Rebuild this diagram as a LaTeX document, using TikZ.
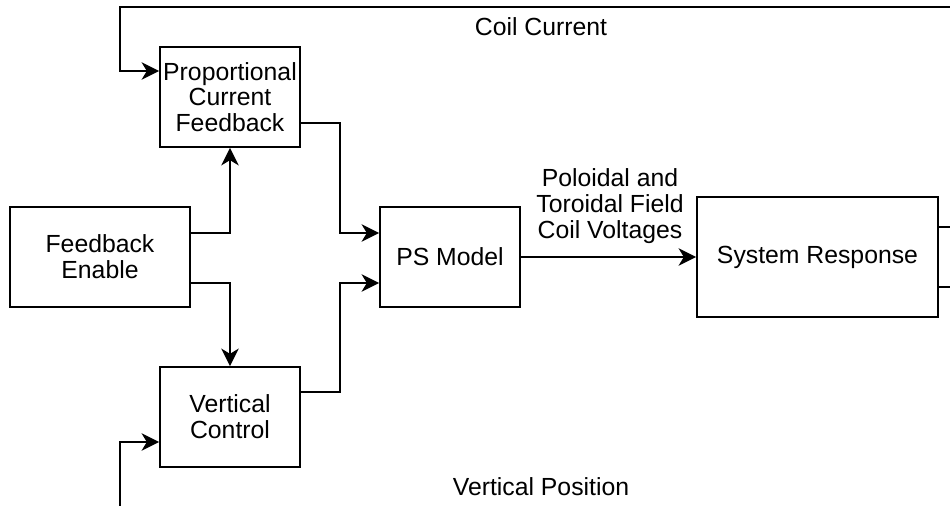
\documentclass[tikz,border=0pt]{standalone}
\usepackage{fontspec}
\setmainfont{Liberation Sans}
\usetikzlibrary{arrows.meta}

\tikzset{
  blk/.style={draw, line width=1pt, align=center, inner sep=0pt},
  arr/.style={line width=1pt, -{Stealth[length=10pt,width=10pt,inset=3pt]}},
  wire/.style={line width=1pt},
  lbl/.style={align=center, inner sep=0pt}
}

\begin{document}
\begin{tikzpicture}[x=0.02cm, y=-0.02cm, font=\fontsize{14.1}{14.7}\selectfont]
        \useasboundingbox (0,0) rectangle (950,506);
        % blocks
        \node[blk, minimum width=140*0.02cm, minimum height=100*0.02cm] (pcf) at (230,97) {Proportional\\Current\\Feedback};
        \node[blk, minimum width=180*0.02cm, minimum height=100*0.02cm] (fe) at (100,257) {Feedback\\Enable};
        \node[blk, minimum width=140*0.02cm, minimum height=100*0.02cm] (vc) at (230,417) {Vertical\\Control};
        \node[blk, minimum width=140*0.02cm, minimum height=100*0.02cm] (ps) at (450,257) {PS Model};
        \node[blk, minimum width=241*0.02cm, minimum height=120*0.02cm] (sr) at (817.5,257) {System Response};
        % free ends at the picture's edge
        \coordinate (ccur) at (950,7);
        \coordinate (vpos) at (120,506);
        \coordinate (out1) at (950,227);
        \coordinate (out2) at (950,287);
        % connectors
        \draw[arr] (ccur) -- (120,7) -- (120,71) -- (pcf.west |- 0,71);
        \draw[arr] (vpos) -- (120,442) -- (vc.west |- 0,442);
        \draw[arr] (fe.east |- 0,233) -| (pcf.south);
        \draw[arr] (fe.east |- 0,283) -| (vc.north);
        \draw[arr] (pcf.east |- 0,123) -- (340,123) -- (340,233) -- (ps.west |- 0,233);
        \draw[arr] (vc.east |- 0,392) -- (340,392) -- (340,283) -- (ps.west |- 0,283);
        \draw[arr] (ps.east) -- (sr.west);
        \draw[wire] (sr.east |- out1) -- (out1);
        \draw[wire] (sr.east |- out2) -- (out2);
        % labels
        \node[lbl] (lcc) at (541,27) {Coil Current};
        \node[lbl] (lcv) at (610,206) {Poloidal and\\Toroidal Field\\Coil Voltages};
        \node[lbl] (lvp) at (541,487) {Vertical Position};
\end{tikzpicture}
\end{document}
